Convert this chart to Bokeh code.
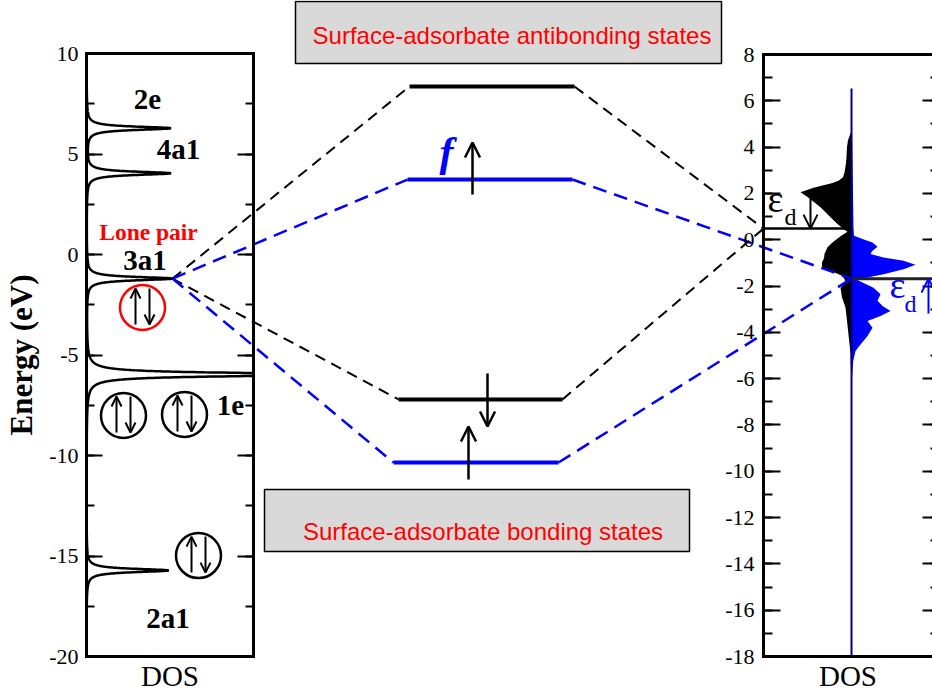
import numpy as np
from bokeh.plotting import figure
from bokeh.models import (Range1d, LinearAxis, SingleIntervalTicker, FixedTicker,
                          Arrow, OpenHead)
from bokeh.core.properties import value
from bokeh.embed import file_html
from bokeh.resources import INLINE

# ---------------- data ----------------
# left panel: adsorbate molecular levels (eV) and DOS peak heights (arb. units)
mol_labels = ["2e", "4a1", "3a1", "1e", "2a1"]
mol_energy = [6.28, 4.04, -1.20, -5.97, -15.72]
mol_peak = [8.4, 8.4, 8.6, 26.0, 8.2]
mol_gamma = 0.1  # level broadening (eV)

left_ticks = [-20, -15, -10, -5, 0, 5, 10]
left_tick_labels = ["-20", "-15", "-10", "-5", "0", "5", "10"]
right_ticks = [-18, -16, -14, -12, -10, -8, -6, -4, -2, 0, 2, 4, 6, 8]
right_tick_labels = ["-18", "-16", "-14", "-12", "-10", "-8", "-6", "-4",
                     "-2", "0", "2", "4", "6", "8"]

# interaction diagram levels (eV, left-panel scale)
mid_levels = ["antibonding", "f", "bonding", "bonding (f)"]
mid_energy = [8.36, 3.73, -7.21, -10.35]
mid_color = ["black", "blue", "black", "blue"]

# right panel: surface d-band DOS (eV, right-panel scale)
eps_d = [0.48, -1.68]          # black / blue d-band centres
dos_top = 6.53                 # top of the DOS energy window
black_E = [4.7, 4.6, 4.3, 4.0, 3.6, 3.3, 2.9, 2.7, 2.55, 2.45, 2.25, 2.05, 1.85,
           1.4, 0.97, 0.68, 0.46, 0.35, 0.15, -0.12, -0.33, -0.62, -0.8, -0.98,
           -1.2, -1.34, -1.56, -1.7, -1.85, -2.07, -2.5, -2.93, -3.5, -4.1,
           -4.9, -6.0, -18.0]
black_dos = [0.0, 0.1, 0.35, 0.45, 0.5, 0.55, 0.7, 0.85, 1.3, 1.9, 3.8, 5.1, 4.4,
             3.1, 2.1, 1.4, 0.8, 0.4, 1.1, 1.9, 2.4, 2.7, 2.75, 2.95,
             2.95, 2.1, 0.95, 0.7, 0.6, 1.1, 0.95, 0.6, 0.45, 0.3,
             0.1, 0.03, 0.0]
blue_E = [4.6, 2.0, 0.5, 0.17, 0.03, -0.12, -0.3, -0.48, -0.62, -0.77, -0.91,
          -1.08, -1.27, -1.49, -1.63, -1.7, -1.85, -2.07, -2.35, -2.64, -2.86,
          -3.08, -3.29, -3.51, -3.8, -4.16, -4.52, -4.81, -5.24, -5.82, -6.2]
blue_dos = [0.05, 0.15, 0.2, 0.25, 1.1, 2.1, 2.6, 2.1, 1.9, 3.2, 5.2,
            6.4, 5.2, 3.2, 1.6, 0.4, 1.1, 2.2, 2.9, 2.6, 3.1,
            3.9, 2.9, 1.6, 2.1, 1.6, 0.9, 0.4, 0.17, 0.07, 0.0]

# ---------------- layout (page pixels) ----------------
W, H = 932, 694
X0, Y0 = 0, 0
X1, Y1 = X0 + W, Y0 + H
LP = (86, 253)          # left panel x extent
RP = (763, 939)         # right panel x extent
RC = 851                # right panel DOS zero line
L_PX = (53, 656)        # page y of 10 eV and -20 eV (left scale)
R_PX = (54, 656)        # page y of 8 eV and -18 eV (right scale)
DOS_PX = 10.0           # px per DOS unit
ppl = (L_PX[1] - L_PX[0]) / 30.0
ppr = (R_PX[1] - R_PX[0]) / 26.0
L_top = 10 + (L_PX[0] - Y0) / ppl
L_bot = -20 - (Y1 - L_PX[1]) / ppl
R_top = 8 + (R_PX[0] - Y0) / ppr
R_bot = -18 - (Y1 - R_PX[1]) / ppr

mid_x0 = [409, 407, 398, 393]
mid_x1 = [574, 572, 562, 558]


def r2l(e):
    return L_bot + (e - R_bot) * (L_top - L_bot) / (R_top - R_bot)


SERIF = "Liberation Serif"
SANS = "Liberation Sans"

p = figure(width=W, height=H, x_range=Range1d(X0, X1), y_range=Range1d(L_bot, L_top),
           output_backend="svg", toolbar_location=None,
           x_axis_location=None, y_axis_location=None, min_border=0,
           outline_line_color=None, background_fill_color="white",
           border_fill_color="white")
p.grid.visible = False
p.extra_y_ranges = {"right": Range1d(R_bot, R_top)}
p.extra_x_ranges = {"dosL": Range1d((X0 - LP[0]) / DOS_PX, (X1 - LP[0]) / DOS_PX),
                    "dosR": Range1d((X0 - RC) / DOS_PX, (X1 - RC) / DOS_PX)}


def yaxis(side, loc, rng, interval, ticks, labels, tin, tmin, show_labels, line=True, **kw):
    ax = LinearAxis(fixed_location=loc, y_range_name=rng,
                    bounds=(ticks[0], ticks[-1]),
                    ticker=SingleIntervalTicker(interval=interval, num_minor_ticks=2),
                    major_label_overrides=dict(zip(ticks, labels)),
                    axis_line_width=3, axis_line_cap="square",
                    axis_line_color="black" if line else None,
                    major_tick_line_width=2, minor_tick_line_width=2,
                    major_tick_line_color="black", minor_tick_line_color="black",
                    major_tick_in=tin, major_tick_out=0,
                    minor_tick_in=tmin, minor_tick_out=0,
                    major_label_text_font=SERIF, major_label_text_font_size="22px",
                    major_label_text_color="black" if show_labels else None,
                    axis_label_text_color="black",
                    **kw)
    p.add_layout(ax, side)
    return ax


yaxis("left", LP[0], "default", 5, left_ticks, left_tick_labels, 16, 8, True,
      major_label_standoff=8, axis_label="Energy (eV)",
      axis_label_text_font=SERIF, axis_label_text_font_style="bold",
      axis_label_text_font_size="31px", axis_label_standoff=7)
yaxis("right", LP[1], "default", 5, left_ticks, left_tick_labels, 16, 8, False)
yaxis("left", RP[0], "right", 2, right_ticks, right_tick_labels, 17, 9, True,
      major_label_standoff=9)
yaxis("right", X1, "right", 2, right_ticks, right_tick_labels, 10, 2, False, line=False)


def xaxis(side, loc, rng, bounds, label=None):
    ax = LinearAxis(fixed_location=loc, y_range_name=rng, bounds=bounds,
                    ticker=FixedTicker(ticks=[]),
                    axis_line_width=3, axis_line_cap="square", axis_line_color="black",
                    major_tick_in=0, major_tick_out=0, minor_tick_in=0, minor_tick_out=0,
                    axis_label=label, axis_label_text_font=SERIF,
                    axis_label_text_font_style="normal", axis_label_text_color="black",
                    axis_label_text_font_size="29px", axis_label_standoff=3)
    p.add_layout(ax, side)


xaxis("below", left_ticks[0], "default", LP, "DOS")
xaxis("above", left_ticks[-1], "default", LP)
xaxis("below", right_ticks[0], "right", RP, "DOS")
xaxis("above", right_ticks[-1], "right", RP)

# ---------------- left panel DOS ----------------
E = np.linspace(-20, 10, 6001)
dos = np.zeros_like(E)
for e0, h in zip(mol_energy, mol_peak):
    dos += h * mol_gamma ** 2 / ((E - e0) ** 2 + mol_gamma ** 2)
dos = np.minimum(dos, (LP[1] - LP[0]) / DOS_PX)
p.line(dos, E, x_range_name="dosL", line_color="black", line_width=2.5)

# ---------------- right panel DOS ----------------
p.harea(y=black_E, x1=0, x2=[-v for v in black_dos], x_range_name="dosR",
        y_range_name="right", fill_color="black")
p.harea(y=blue_E, x1=0, x2=blue_dos, x_range_name="dosR",
        y_range_name="right", fill_color="blue")
p.segment(x0=[0], y0=[right_ticks[0]], x1=[0], y1=[dos_top], x_range_name="dosR",
          y_range_name="right", line_color="navy", line_width=2)
p.segment(x0=[RP[0], RC], y0=eps_d, x1=[RC, RP[1]], y1=eps_d, y_range_name="right",
          line_color=["black", "#222222"], line_width=[2.5, 3])

# ---------------- interaction diagram ----------------
ax_x = LP[0] + mol_peak[2] * DOS_PX
ax_y = mol_energy[2]
for i in range(len(mid_levels)):
    col = mid_color[i]
    if col == "black":
        tx, ty = RP[0], r2l(eps_d[0])
        dash, lw = "11 7", 2
    else:
        tx, ty = RC, r2l(eps_d[1])
        dash, lw = "14 8", 2.5
    p.segment(x0=[ax_x, mid_x1[i]], y0=[ax_y, mid_energy[i]],
              x1=[mid_x0[i], tx], y1=[mid_energy[i], ty],
              line_color=col, line_dash=dash, line_width=lw)
p.segment(x0=mid_x0, y0=mid_energy, x1=mid_x1, y1=mid_energy,
          line_color=mid_color, line_width=4)


def arrow(x, ys, ye, color="black", size=12, rng="default", lw=2):
    p.add_layout(Arrow(end=OpenHead(size=size, line_width=lw, line_color=color),
                       x_start=x, y_start=ys, x_end=x, y_end=ye,
                       line_color=color, line_width=lw, y_range_name=rng))


# electrons in the new levels
arrow(472, 2.99, 5.57, size=15, lw=2.5)
arrow(487, -5.92, -8.56, size=15, lw=2.5)
arrow(468, -11.19, -8.56, size=15, lw=2.5)

# d-band centre arrows
arrow(810, 2.0, eps_d[0], size=14, rng="right")
arrow(928, -3.19, eps_d[1], color="blue", size=14, rng="right")

# occupied molecular orbitals (circled electron pairs)
circle_x = [142, 123, 184, 198]
circle_E = [-2.64, -8.01, -7.96, -14.98]
circle_color = ["red", "black", "black", "black"]
p.scatter(circle_x, circle_E, marker="circle", size=45, fill_color=None,
          line_color=circle_color, line_width=2.5)
for cx, cy in zip(circle_x, circle_E):
    arrow(cx - 7, cy - 17 / ppl, cy + 19 / ppl, size=10)
    arrow(cx + 7, cy + 19 / ppl, cy - 17 / ppl, size=10)

# boxes
box_left = [295, 264]
box_right = [721, 689]
box_top = [10 - (1 - L_PX[0]) / ppl, 10 - (489 - L_PX[0]) / ppl]
box_bottom = [10 - (63 - L_PX[0]) / ppl, 10 - (551 - L_PX[0]) / ppl]
p.quad(left=box_left, right=box_right, top=box_top, bottom=box_bottom,
       fill_color="#d9d9d9", line_color="black", line_width=1.5)

BASELINE_FIX = 0.36  # lift (in em) so rendered glyphs sit on the intended baseline


def txt(x, y, t, size, color="black", style="normal", font=SERIF, rng="default"):
    pp = ppr if rng == "right" else ppl
    y_adj = y + BASELINE_FIX * size / pp
    p.text(x=[x], y=[y_adj], text=[t], text_font=value(font),
           text_font_size=f"{size}px",
           text_font_style=style, text_color=color, text_align="center",
           text_baseline="alphabetic", y_range_name=rng)


txt(511.5, 10.48, "Surface-adsorbate antibonding states", 24, "red", font=SANS)
txt(482.5, -14.23, "Surface-adsorbate bonding states", 24, "red", font=SANS)

label_x = [147, 178, 144.5, 230, 167.5]
label_E = [7.20, 4.73, -0.80, -8.01, -18.62]
for lx, le, t in zip(label_x, label_E, mol_labels):
    txt(lx, le, t, 29, style="bold")
txt(148, 0.70, "Lone pair", 23.5, "red", style="bold")
txt(446, 4.33, "f", 42, "blue", style="bold italic")

txt(775, 1.176, "\u03b5", 38, rng="right")
txt(790, 0.615, "d", 24, rng="right")
txt(897, -2.538, "\u03b5", 38, "blue", rng="right")
txt(910, -3.143, "d", 24, "blue", rng="right")

open("out.html", "w").write(file_html(p, INLINE))
